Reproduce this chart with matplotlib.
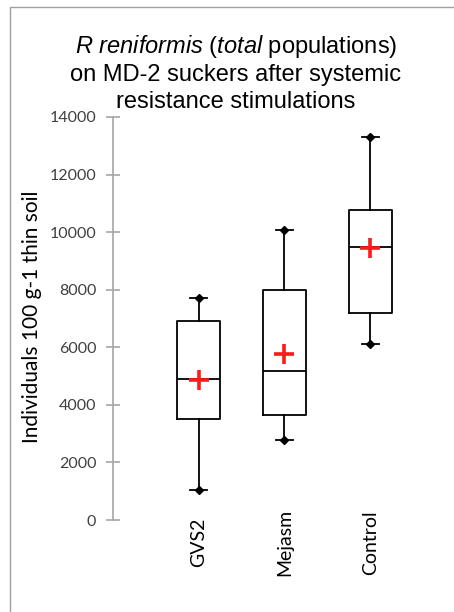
import numpy as np
import matplotlib.pyplot as plt
from matplotlib.patches import Rectangle

plt.rcParams['mathtext.fontset'] = 'custom'
plt.rcParams['mathtext.it'] = 'Liberation Sans:italic'
plt.rcParams['mathtext.rm'] = 'Liberation Sans'

groups = ['GVS2', 'Mejasm', 'Control']
whis_low = [1050, 2780, 6100]
q1 = [3510, 3660, 7190]
medians = [4900, 5160, 9470]
q3 = [6910, 7980, 10760]
whis_high = [7710, 10080, 13310]
means = [4850, 5780, 9440]

stats = []
for i in range(len(groups)):
    stats.append(dict(label=groups[i], whislo=whis_low[i], q1=q1[i], med=medians[i],
                      q3=q3[i], whishi=whis_high[i], mean=means[i], fliers=[]))

fig = plt.figure(figsize=(4.54, 6.12), dpi=100)
ax = fig.add_axes([113/454, 92/612, 300/454, 403/612])

pos = [1, 2, 3]
ax.bxp(stats, positions=pos, widths=0.5, showmeans=True, capwidths=0.2,
       boxprops=dict(color='black', lw=1.3),
       medianprops=dict(color='black', lw=1.3),
       whiskerprops=dict(color='black', lw=1.3),
       capprops=dict(color='black', lw=1.3),
       meanprops=dict(marker='+', markersize=15, markeredgewidth=2.6,
                      markeredgecolor='#ff1a1a'))
# diamonds at whisker ends
ax.plot(pos, whis_low, 'D', color='black', ms=4.5, ls='none')
ax.plot(pos, whis_high, 'D', color='black', ms=4.5, ls='none')

ax.set_xlim(0, 3.5)
ax.set_ylim(0, 14000)
ax.set_yticks(np.arange(0, 14001, 2000))
ax.tick_params(axis='y', direction='inout', length=10, width=1.2, color='#a6a6a6',
               labelsize=11.5, labelcolor='#404040', pad=7)
for lab in ax.get_yticklabels():
    lab.set_family('Lato')
ax.set_xticks(pos)
ax.set_xticklabels(groups, rotation=90, va='center', ha='center', family='Lato', fontsize=14)
ax.tick_params(axis='x', length=0, pad=16)
for s in ['top', 'right', 'bottom']:
    ax.spines[s].set_visible(False)
ax.spines['left'].set_color('#a6a6a6')
ax.spines['left'].set_linewidth(1.2)

ax.set_ylabel('Individuals 100 g-1 thin soil', family='Lato', fontsize=15)
ax.yaxis.set_label_coords(-0.235, 0.505)

title = (r'$\it{R\ reniformis}$ (' + r'$\it{total}$ populations)' + '\n'
         'on MD-2 suckers after systemic\nresistance stimulations')
fig.text(236/454, 1 - 33/612, title, ha='center', va='top', fontsize=17,
         family='Liberation Sans', linespacing=1.25)

fig.patches.append(Rectangle((10/454, -0.05), 1, 1 - 7/612 + 0.05, transform=fig.transFigure,
                             fill=False, edgecolor='#a0a0a0', lw=1))

fig.savefig('out.png', dpi=100)
